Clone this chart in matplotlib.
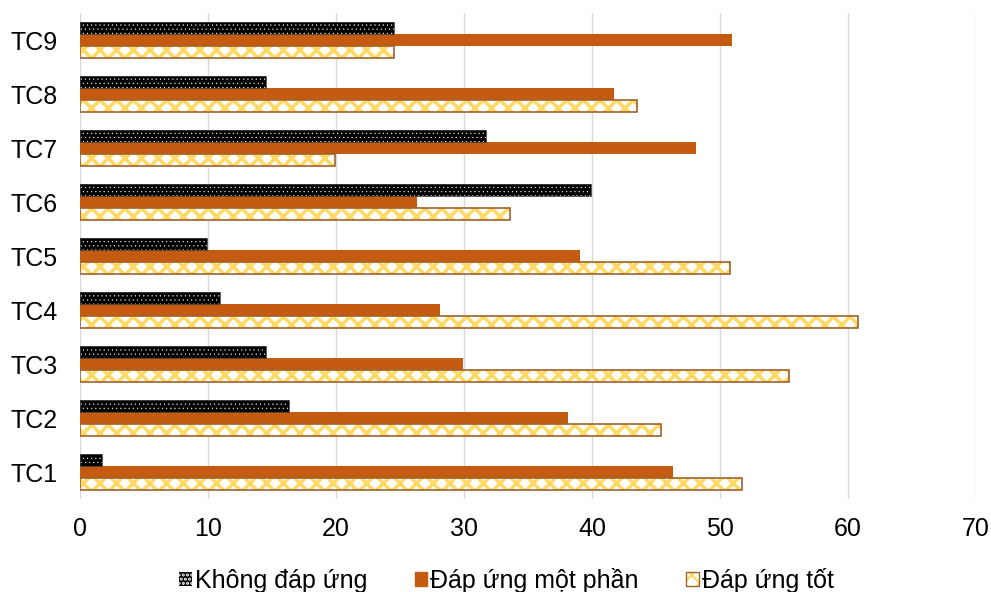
import numpy as np
import matplotlib
matplotlib.use('Agg')
import matplotlib.pyplot as plt
from matplotlib.patches import Patch

# Dữ liệu
tieu_chi = ['TC1', 'TC2', 'TC3', 'TC4', 'TC5', 'TC6', 'TC7', 'TC8', 'TC9']
khong_dap_ung = [1.7, 16.3, 14.5, 10.9, 9.9, 39.9, 31.7, 14.5, 24.5]
dap_ung_mot_phan = [46.3, 38.1, 29.9, 28.1, 39.1, 26.3, 48.1, 41.7, 50.9]
dap_ung_tot = [51.7, 45.4, 55.4, 60.8, 50.8, 33.6, 19.9, 43.5, 24.5]
x_ticks = [0, 10, 20, 30, 40, 50, 60, 70]

plt.rcParams['font.family'] = ['Liberation Sans', 'DejaVu Sans']

cam = '#C55A11'
vang = '#FFD966'
vien = '#A0622D'

fig = plt.figure(figsize=(9.91, 5.92), dpi=100)
ax = fig.add_axes([80 / 991, 1 - 499 / 592, 896 / 991, 486 / 592])

y = np.arange(len(tieu_chi))
h = 0.222

# Không đáp ứng: nền đen, chấm trắng
plt.rcParams['hatch.linewidth'] = 0.3
ax.barh(y + h, khong_dap_ung, height=h, color='black', edgecolor='white',
        hatch='....', linewidth=0, zorder=3)
ax.barh(y + h, khong_dap_ung, height=h, facecolor='none', edgecolor='#404040',
        linewidth=0.6, zorder=4)

# Đáp ứng một phần
ax.barh(y, dap_ung_mot_phan, height=h, color=cam, linewidth=0, zorder=3)

# Đáp ứng tốt: nền trắng, họa tiết vàng, viền nâu
plt.rcParams['hatch.linewidth'] = 2.6
ax.barh(y - h, dap_ung_tot, height=h, color='white', edgecolor=vang,
        hatch='xx', linewidth=0, zorder=3)
ax.barh(y - h, dap_ung_tot, height=h, facecolor='none', edgecolor=vien,
        linewidth=1.2, zorder=4)

ax.set_xlim(0, 70)
ax.set_ylim(-0.5, len(tieu_chi) - 0.5)
ax.set_xticks(x_ticks)
ax.set_yticks(y)
ax.set_yticklabels(tieu_chi)
ax.tick_params(axis='both', length=0, labelsize=18, colors='black')
ax.tick_params(axis='x', pad=13)
ax.tick_params(axis='y', pad=16)
ax.grid(axis='x', color='#D9D9D9', linewidth=1, zorder=0)
ax.set_axisbelow(True)
for s in ax.spines.values():
    s.set_visible(False)

plt.rcParams['hatch.linewidth'] = 0.3
h1 = Patch(facecolor='black', edgecolor='white', hatch='....', linewidth=0)
h2 = Patch(facecolor=cam, edgecolor=cam)
plt.rcParams['hatch.linewidth'] = 1.5
h3 = Patch(facecolor='white', edgecolor=vang, hatch='xx', linewidth=0)
h3b = Patch(facecolor='none', edgecolor=vien, linewidth=1)
fig.legend([h1, h2, (h3, h3b)], ['Không đáp ứng', 'Đáp ứng một phần', 'Đáp ứng tốt'],
           loc='lower center', bbox_to_anchor=(0.511, -0.04), ncol=3,
           frameon=False, fontsize=18, handlelength=0.5, handleheight=0.5,
           handletextpad=0.12, columnspacing=1.9)

fig.savefig('out.png', dpi=100)
